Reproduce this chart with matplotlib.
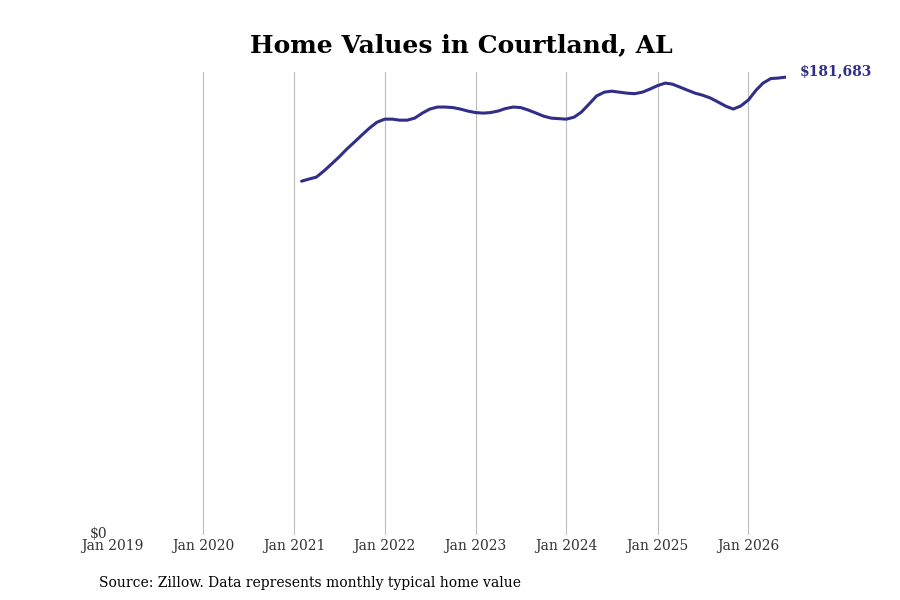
import numpy as np
import pandas as pd
import matplotlib
matplotlib.use('Agg')
import matplotlib.pyplot as plt
import matplotlib.transforms as mtransforms

# monthly typical home value, Feb 2021 .. Jun 2026
months = pd.date_range('2021-02-01', '2026-06-01', freq='MS')
values = [
    140400, 141200, 142000, 144400, 147200, 149950, 153100, 155900, 158700, 161500, 163800,
    165000, 165000, 164600, 164600, 165400, 167400, 169000, 169800, 169800, 169600, 169000, 168200,
    167600, 167400, 167600, 168200, 169200, 169800, 169600, 168600, 167400, 166200, 165400, 165200,
    165000, 165800, 167800, 171000, 174200, 175700, 176100, 175700, 175300, 175100, 175700, 176900,
    178300, 179300, 178900, 177700, 176500, 175300, 174500, 173400, 171800, 170200, 169000, 170200,
    172600, 176500, 179300, 181100, 181300, 181683,
]
tick_years = list(range(2019, 2027))
tick_labels = ['Jan {}'.format(y) for y in tick_years]

title = 'Home Values in Courtland, AL'
source = 'Source: Zillow. Data represents monthly typical home value'
line_color = '#312e8a'

plt.rcParams['font.family'] = ['DejaVu Serif']

fig = plt.figure(figsize=(9, 6), dpi=100)
ax = fig.add_axes([0.1244, 0.108, 0.7489, 0.772])

ax.plot(months, values, color=line_color, linewidth=2.2, solid_capstyle='round')

ax.set_xlim(pd.Timestamp('2019-01-01'), months[-1])
ax.set_ylim(0, 183700)

ticks = [pd.Timestamp('{}-01-01'.format(y)) for y in tick_years]
ax.set_xticks(ticks)
ax.set_xticklabels(tick_labels, fontsize=10, color='#333333')
ax.set_yticks([0])
ax.set_yticklabels(['$0'], fontsize=10, color='#333333')
ax.tick_params(axis='both', length=0)
ax.tick_params(axis='x', pad=3)
ax.tick_params(axis='y', pad=3.5)
# vertical grid, none on the left edge
for t in ticks[1:]:
    ax.axvline(t, color='#bdbdbd', linewidth=0.8, zorder=0)
for s in ax.spines.values():
    s.set_visible(False)

# lift the $0 label a little, it sits just above Jan 2019
for lbl in ax.get_yticklabels():
    lbl.set_transform(lbl.get_transform() + mtransforms.ScaledTranslation(0, 2 / 72, fig.dpi_scale_trans))

# end label
ax.annotate('${:,}'.format(values[-1]), xy=(months[-1], values[-1]), xytext=(10, 4),
            textcoords='offset points', color=line_color, fontsize=10, fontweight='bold',
            va='center', ha='left', annotation_clip=False)

fig.text(0.513, 0.925, title, fontsize=18, fontweight='bold', ha='center', va='center')
fig.text(0.11, 0.022, source, fontsize=10, color='black')

plt.savefig('out.png', dpi=100)
